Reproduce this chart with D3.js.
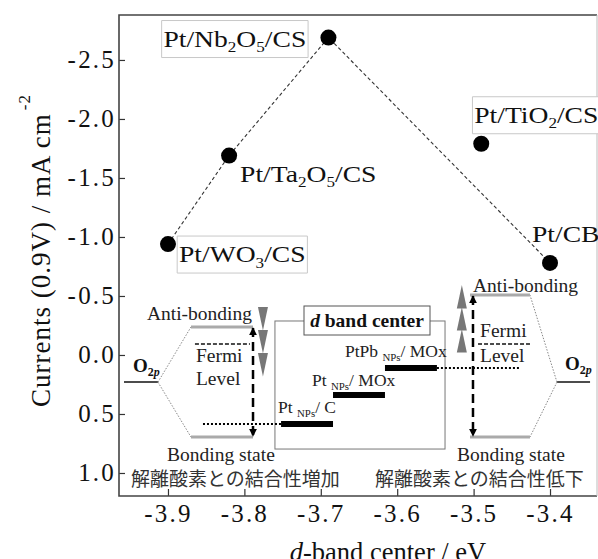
<!DOCTYPE html>
<html>
<head>
<meta charset="utf-8">
<script src="https://cdn.jsdelivr.net/npm/d3@7"></script>
<style>
  body { margin: 0; background: #fff; }
  svg { display: block; }
</style>
</head>
<body>
<svg id="chart" width="598" height="559"></svg>
<script>
// Catalysts: d-band center vs ORR current at 0.9 V
const sampleNames = ["Pt/WO_3/CS", "Pt/Ta_2O_5/CS", "Pt/Nb_2O_5/CS", "Pt/TiO_2/CS", "Pt/CB"];
const dBand = [-3.90, -3.82, -3.69, -3.49, -3.40];
const currents = [-0.94, -1.69, -2.69, -1.79, -0.78];
const trendOrder = [0, 1, 2, 4]; // joined by the dashed guide

const xTicks = [-3.9, -3.8, -3.7, -3.6, -3.5, -3.4];
const yTicks = [-2.5, -2.0, -1.5, -1.0, -0.5, 0.0, 0.5, 1.0];

// Inset schematic, in axis units
const o2pLevel = 0.23;
const fermiLevel = -0.093;
const leftLevels = [-0.237, 0.695];   // anti-bonding, bonding (strong binding)
const rightLevels = [-0.508, 0.695];  // anti-bonding, bonding (weak binding)
const barNames = ["Pt _{NPs}/ C", "Pt _{NPs}/ MOx", "PtPb _{NPs}/ MOx"];
const barStart = [-3.752, -3.684, -3.616];
const barEnd = [-3.684, -3.616, -3.548];
const barLevel = [0.585, 0.339, 0.110];
const downMarks = [-0.407, -0.212, -0.017]; // grey arrowheads, left
const upMarks = [-0.593, -0.407, -0.22];    // grey arrowheads, right

const W = 598, H = 559;
const SERIF = "'Liberation Serif', 'Times New Roman', serif";
const CJK = "'Noto Sans CJK JP', sans-serif";

const svg = d3.select("#chart");
svg.append("rect").attr("width", W).attr("height", H).attr("fill", "#fff");

const x = d3.scaleLinear().domain([-3.9641, -3.3385]).range([119, 597]);
const y = d3.scaleLinear().domain([-2.881, 1.195]).range([15, 496]);

// text with _x / _{xx} subscripts
function richText(sel, str, fs, subScale = 0.65, shift = 0.28) {
  const parts = str.split(/(_\{[^}]*\}|_.)/).filter((s) => s);
  let down = false;
  parts.forEach((p) => {
    if (p[0] === "_") {
      const t = p[1] === "{" ? p.slice(2, -1) : p.slice(1);
      sel.append("tspan").attr("font-size", fs * subScale)
        .attr("dy", down ? 0 : fs * shift).text(t);
      down = true;
    } else {
      sel.append("tspan").attr("font-size", fs)
        .attr("dy", down ? -fs * shift : 0).text(p);
      down = false;
    }
  });
}

const defs = svg.append("defs");
defs.append("marker")
  .attr("id", "head")
  .attr("viewBox", "0 0 10 10")
  .attr("refX", 9).attr("refY", 5)
  .attr("markerWidth", 3.2).attr("markerHeight", 3.2)
  .attr("orient", "auto-start-reverse")
  .append("path").attr("d", "M0,0L10,5L0,10z").attr("fill", "#000");

// Axes
const yAxis = d3.axisLeft(y).tickValues(yTicks).tickSize(-6).tickPadding(3)
  .tickFormat((d) => d.toFixed(1));
const xAxis = d3.axisBottom(x).tickValues(xTicks).tickSize(-7).tickPadding(8)
  .tickFormat((d) => d.toFixed(1));

const gy = svg.append("g").attr("transform", "translate(119,0)").call(yAxis);
const gx = svg.append("g").attr("transform", "translate(0,496)").call(xAxis);
[gx, gy].forEach((g) => {
  g.select(".domain").remove();
  g.selectAll(".tick line").attr("stroke", "#333").attr("stroke-width", 1.2);
  g.selectAll(".tick text")
    .attr("font-family", SERIF).attr("font-size", 25).attr("fill", "#111")
    .attr("letter-spacing", 2.2);
});

// Frame (right edge is faint in the original)
svg.append("path")
  .attr("d", "M597,15H119V496H597")
  .attr("fill", "none").attr("stroke", "#444").attr("stroke-width", 1.6);
svg.append("line")
  .attr("x1", 597).attr("x2", 597).attr("y1", 15).attr("y2", 496)
  .attr("stroke", "#bbb").attr("stroke-width", 1);

// Axis titles
const yTitle = svg.append("text")
  .attr("transform", "translate(50,407) rotate(-90)")
  .attr("font-family", SERIF).attr("font-size", 27).attr("fill", "#111")
  .attr("letter-spacing", 1);
yTitle.append("tspan").text("Currents (0.9V) / mA cm");
yTitle.append("tspan").attr("font-size", 17).attr("dx", 3).attr("dy", -20).text("-2");

const xTitle = svg.append("text")
  .attr("x", 388).attr("y", 561).attr("text-anchor", "middle")
  .attr("font-family", SERIF).attr("font-size", 26.5).attr("fill", "#111");
xTitle.append("tspan").attr("font-style", "italic").text("d");
xTitle.append("tspan").text("-band center / eV");

// ---------- inset schematic ----------
const ins = svg.append("g");
const line = d3.line();

// d band center box
ins.append("rect")
  .attr("x", x(-3.76)).attr("y", y(-0.288))
  .attr("width", x(-3.5374) - x(-3.76)).attr("height", y(0.797) - y(-0.288))
  .attr("fill", "none").attr("stroke", "#777").attr("stroke-width", 1);
ins.append("rect")
  .attr("x", 304).attr("y", 306).attr("width", 126).attr("height", 29)
  .attr("fill", "#fff").attr("stroke", "#555").attr("stroke-width", 1);
const dTitle = ins.append("text")
  .attr("x", 367).attr("y", 327).attr("text-anchor", "middle")
  .attr("font-family", SERIF).attr("font-size", 19.5).attr("font-weight", "bold").attr("fill", "#111");
dTitle.append("tspan").attr("font-style", "italic").text("d");
dTitle.append("tspan").text(" band center");

// level bars + labels
const labelShift = [[-3, -11], [-21, -9], [-40, -11]];
barNames.forEach((name, i) => {
  ins.append("line")
    .attr("x1", x(barStart[i])).attr("x2", x(barEnd[i]))
    .attr("y1", y(barLevel[i])).attr("y2", y(barLevel[i]))
    .attr("stroke", "#000").attr("stroke-width", 6);
  const t = ins.append("text")
    .attr("x", x(barStart[i]) + labelShift[i][0])
    .attr("y", y(barLevel[i]) + labelShift[i][1])
    .attr("font-family", SERIF).attr("fill", "#222");
  richText(t, name, 17.5, 0.62, 0.22);
});

// dotted links from bars to the arrows
ins.append("line")
  .attr("x1", x(-3.8699) + 12).attr("x2", x(barStart[0]))
  .attr("y1", y(barLevel[0])).attr("y2", y(barLevel[0]))
  .attr("stroke", "#000").attr("stroke-width", 2).attr("stroke-dasharray", "2,2");
ins.append("line")
  .attr("x1", x(barEnd[2])).attr("x2", x(-3.4393))
  .attr("y1", y(barLevel[2])).attr("y2", y(barLevel[2]))
  .attr("stroke", "#000").attr("stroke-width", 2).attr("stroke-dasharray", "2,2");

function sideDiagram(o2pX, o2pJoin, levX, levels, arrowX, markX, marks, dir) {
  // O2p line
  ins.append("line")
    .attr("x1", x(o2pX[0])).attr("x2", x(o2pX[1]))
    .attr("y1", y(o2pLevel)).attr("y2", y(o2pLevel))
    .attr("stroke", "#111").attr("stroke-width", 1.5);
  // correlation lines
  levels.forEach((lv) => {
    ins.append("path")
      .attr("d", line([[x(o2pJoin), y(o2pLevel)], [x(levX[dir > 0 ? 0 : 1]), y(lv)]]))
      .attr("stroke", "#888").attr("stroke-width", 1).attr("stroke-dasharray", "1.5,1.5")
      .attr("fill", "none");
    ins.append("line")
      .attr("x1", x(levX[0])).attr("x2", x(levX[1]))
      .attr("y1", y(lv)).attr("y2", y(lv))
      .attr("stroke", "#aaa").attr("stroke-width", 3);
  });
  // grey shift arrowheads
  marks.forEach((m) => {
    const cx = x(markX);
    const pts = dir > 0
      ? [[cx - 5, y(m)], [cx + 5, y(m)], [cx, y(m + 0.2)]]
      : [[cx, y(m)], [cx + 5, y(m + 0.2)], [cx - 5, y(m + 0.2)]];
    ins.append("path").attr("d", line(pts) + "Z").attr("fill", "#777");
  });
  // double arrow between bonding and anti-bonding
  ins.append("line")
    .attr("x1", x(arrowX)).attr("x2", x(arrowX))
    .attr("y1", y(levels[0]) + 1).attr("y2", y(levels[1]) - 1)
    .attr("stroke", "#000").attr("stroke-width", 2.5)
    .attr("stroke-dasharray", "9,5")
    .attr("marker-start", "url(#head)").attr("marker-end", "url(#head)");
}

sideDiagram([-3.9576, -3.9131], -3.9131, [-3.8699, -3.7887], leftLevels,
  -3.7887, -3.7757, downMarks, 1);
sideDiagram([-3.3909, -3.3476], -3.3909, [-3.5047, -3.4262], rightLevels,
  -3.5008, -3.5154, upMarks, -1);

// Fermi levels
[[-3.8647, -3.7927], [-3.4942, -3.4262]].forEach((r) => {
  ins.append("line")
    .attr("x1", x(r[0])).attr("x2", x(r[1]))
    .attr("y1", y(fermiLevel)).attr("y2", y(fermiLevel))
    .attr("stroke", "#111").attr("stroke-width", 1.5).attr("stroke-dasharray", "4,2");
});

function plainText(tx, ty, str, opts = {}) {
  return ins.append("text")
    .attr("x", tx).attr("y", ty)
    .attr("text-anchor", opts.anchor || "start")
    .attr("font-family", opts.font || SERIF)
    .attr("font-size", opts.size || 19.5)
    .attr("fill", opts.fill || "#222")
    .text(str);
}

plainText(x(-3.7887) - 1, y(leftLevels[0]) - 7, "Anti-bonding", { anchor: "end" });
plainText(x(-3.5047) + 3, y(rightLevels[0]) - 3, "Anti-bonding");
plainText(x(-3.8647) + 1, y(fermiLevel) + 18, "Fermi");
plainText(x(-3.8647) + 1, y(fermiLevel) + 41, "Level");
plainText(x(-3.4942) + 2, y(fermiLevel) - 7, "Fermi");
plainText(x(-3.4942) + 2, y(fermiLevel) + 18, "Level");
plainText(167, y(leftLevels[1]) + 24, "Bonding state");
plainText(457, y(rightLevels[1]) + 24, "Bonding state");
plainText(131, 486, "解離酸素との結合性増加", { font: CJK, size: 19, fill: "#333" });
plainText(375, 486, "解離酸素との結合性低下", { font: CJK, size: 19, fill: "#333" });

[[133, y(o2pLevel) - 10], [565, y(o2pLevel) - 12]].forEach(([tx, ty]) => {
  const t = ins.append("text").attr("x", tx).attr("y", ty)
    .attr("font-family", SERIF).attr("font-weight", "bold").attr("fill", "#111");
  t.append("tspan").attr("font-size", 19).text("O");
  t.append("tspan").attr("font-size", 12).attr("dy", 4).text("2");
  t.append("tspan").attr("font-size", 12).attr("font-style", "italic").text("p");
});

// ---------- data ----------
const pts = dBand.map((d, i) => ({ name: sampleNames[i], xv: d, yv: currents[i] }));

svg.append("path")
  .attr("d", d3.line().x((d) => x(d.xv)).y((d) => y(d.yv))(trendOrder.map((i) => pts[i])))
  .attr("fill", "none").attr("stroke", "#333").attr("stroke-width", 1.1)
  .attr("stroke-dasharray", "3.5,2.5");

svg.append("g").selectAll("circle")
  .data(pts)
  .join("circle")
  .attr("cx", (d) => x(d.xv))
  .attr("cy", (d) => y(d.yv))
  .attr("r", 8)
  .attr("fill", "#000");

// point labels (offset in px from the point; some carry a light frame)
const labelPos = [[11, 18], [11, 26], [-165, 9], [-7, -21], [-18, -21]];
const framed = [true, false, true, true, false];
pts.forEach((d, i) => {
  const g = svg.append("g")
    .attr("transform",
      `translate(${x(d.xv) + labelPos[i][0]},${y(d.yv) + labelPos[i][1]}) scale(1.2,1)`);
  const box = g.append("rect");
  const t = g.append("text").attr("font-family", SERIF).attr("fill", "#111");
  richText(t, d.name, 23, 0.62, 0.24);
  if (framed[i]) {
    const b = t.node().getBBox();
    box.attr("x", b.x - 1.5).attr("y", -26).attr("width", b.width + 3).attr("height", 37)
      .attr("fill", "#fff").attr("stroke", "#c8c8c8").attr("stroke-width", 1)
      .attr("vector-effect", "non-scaling-stroke");
  } else {
    box.remove();
  }
});
</script>
</body>
</html>
